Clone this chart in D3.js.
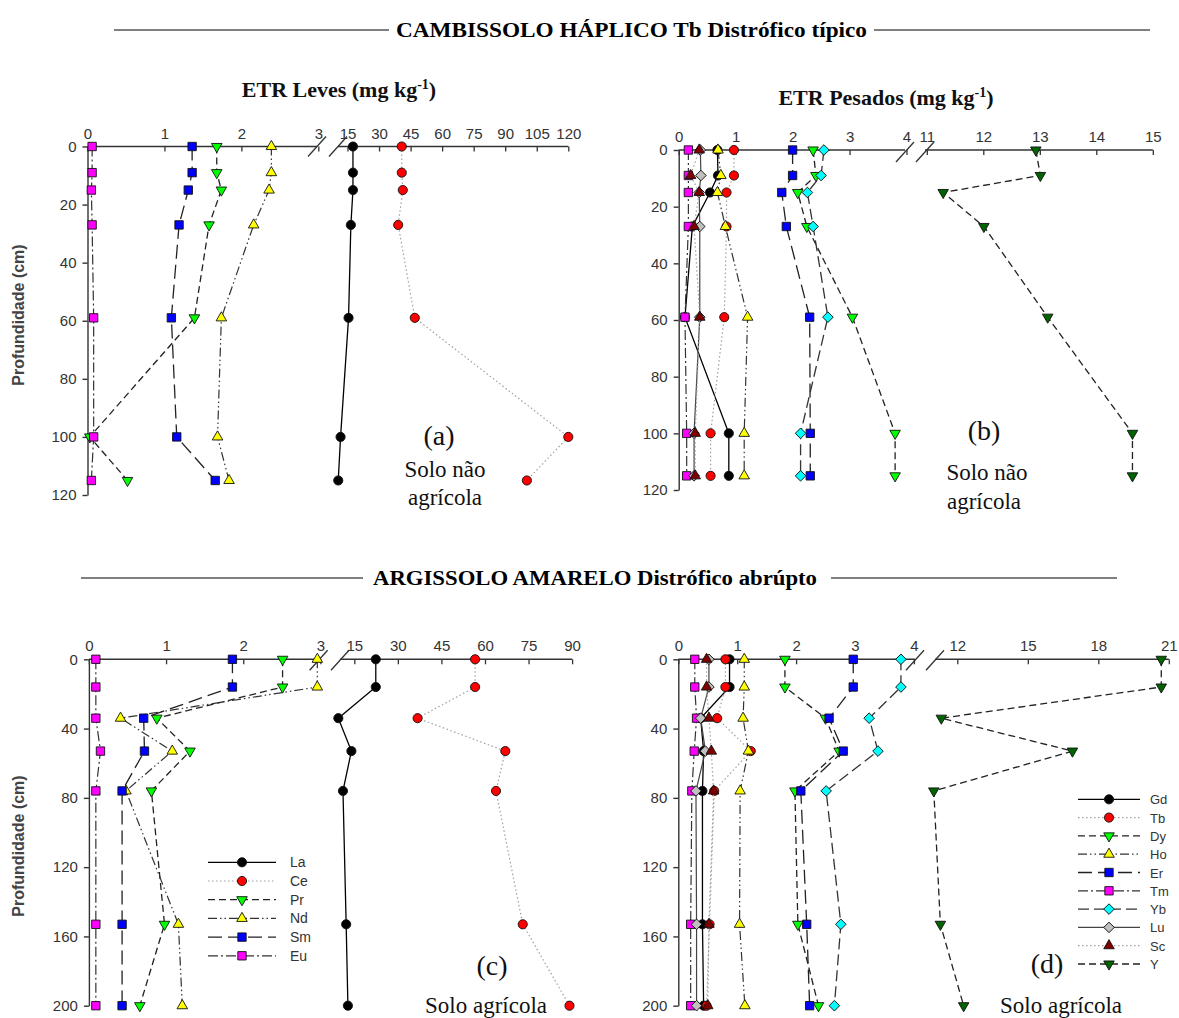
<!DOCTYPE html>
<html>
<head>
<meta charset="utf-8">
<script src="https://cdn.jsdelivr.net/npm/d3@7"></script>
<style>
  body { margin: 0; background: #fff; }
  svg text { font-family: "Liberation Sans", Arial, sans-serif; }
  svg text.serif { font-family: "Liberation Serif", "Times New Roman", serif; }
</style>
</head>
<body>
<svg id="chart" width="1179" height="1018"></svg>
<script>
// depths of the soil samples (cm)
var depthTop = [0, 9, 15, 27, 59, 100, 115];
var depthBottom = [0, 16, 34, 53, 76, 153, 200];

var lightNames = ["La", "Ce", "Pr", "Nd", "Sm", "Eu"];
var heavyNames = ["Gd", "Tb", "Dy", "Ho", "Er", "Tm", "Yb", "Lu", "Sc", "Y"];

// (a) ETR leves - solo nao agricola (mg kg-1)
var aLa = [17.6, 17.6, 17.6, 16.6, 15.5, 11.7, 10.6];
var aCe = [40.8, 40.8, 41.3, 39.1, 47.0, 120.0, 100.3];
var aPr = [1.68, 1.68, 1.74, 1.58, 1.39, 0.03, 0.52];
var aNd = [2.39, 2.39, 2.36, 2.16, 1.74, 1.69, 1.84];
var aSm = [1.36, 1.36, 1.31, 1.19, 1.09, 1.16, 1.66];
var aEu = [0.06, 0.06, 0.05, 0.06, 0.08, 0.08, 0.05];

// (b) ETR pesados - solo nao agricola
var bGd = [0.68, 0.69, 0.55, 0.24, 0.11, 0.88, 0.88];
var bTb = [0.97, 0.97, 0.84, 0.84, 0.80, 0.56, 0.56];
var bDy = [2.36, 2.41, 2.09, 2.25, 3.05, 3.80, 3.80];
var bHo = [0.69, 0.74, 0.68, 0.82, 1.21, 1.15, 1.15];
var bEr = [2.00, 2.00, 1.81, 1.89, 2.30, 2.31, 2.31];
var bTm = [0.17, 0.17, 0.17, 0.17, 0.11, 0.14, 0.14];
var bYb = [2.55, 2.50, 2.26, 2.36, 2.62, 2.14, 2.14];
var bLu = [0.38, 0.39, 0.36, 0.37, 0.37, 0.27, 0.27];
var bSc = [0.36, 0.21, 0.36, 0.27, 0.37, 0.29, 0.29];
var bY  = [12.93, 13.01, 11.29, 12.01, 13.14, 14.64, 14.64];

// (c) ETR leves - solo agricola
var cLa = [22.4, 22.4, 9.5, 14.0, 11.1, 12.2, 12.8];
var cCe = [56.6, 56.6, 36.8, 67.0, 63.8, 73.0, 89.1];
var cPr = [2.51, 2.51, 0.88, 1.31, 0.81, 0.98, 0.66];
var cNd = [2.96, 2.96, 0.41, 1.08, 0.48, 1.16, 1.21];
var cSm = [1.86, 1.86, 0.71, 0.72, 0.43, 0.43, 0.43];
var cEu = [0.09, 0.09, 0.09, 0.15, 0.09, 0.09, 0.09];

// (d) ETR pesados - solo agricola
var dGd = [0.87, 0.87, 0.38, 0.43, 0.41, 0.41, 0.43];
var dTb = [0.80, 0.80, 0.66, 1.23, 0.61, 0.53, 0.48];
var dDy = [1.81, 1.81, 2.50, 2.73, 1.98, 2.03, 2.38];
var dHo = [1.12, 1.12, 1.10, 1.19, 1.05, 1.04, 1.13];
var dEr = [2.97, 2.97, 2.56, 2.80, 2.08, 2.18, 2.23];
var dTm = [0.28, 0.28, 0.31, 0.27, 0.23, 0.21, 0.21];
var dYb = [3.78, 3.78, 3.24, 3.39, 2.51, 2.76, 2.65];
var dLu = [0.52, 0.52, 0.38, 0.46, 0.30, 0.31, 0.31];
var dSc = [0.48, 0.48, 0.52, 0.56, 0.60, 0.52, 0.50];
var dY  = [20.68, 20.68, 11.32, 16.90, 11.00, 11.28, 12.27];

// tick labels
var depthTicksTop = [0, 20, 40, 60, 80, 100, 120];
var depthTicksBottom = [0, 40, 80, 120, 160, 200];
var aLeftTicks = [0, 1, 2, 3], aRightTicks = [15, 30, 45, 60, 75, 90, 105, 120];
var bLeftTicks = [0, 1, 2, 3, 4], bRightTicks = [11, 12, 13, 14, 15];
var cLeftTicks = [0, 1, 2, 3], cRightTicks = [15, 30, 45, 60, 75, 90];
var dLeftTicks = [0, 1, 2, 3, 4], dRightTicks = [12, 15, 18, 21];

// marker + line look of each element
var look = {
  La: {shape: "circle", fill: "#000000", line: "solid"},
  Gd: {shape: "circle", fill: "#000000", line: "solid"},
  Ce: {shape: "circle", fill: "#ff0000", line: "dot"},
  Tb: {shape: "circle", fill: "#ff0000", line: "dot"},
  Pr: {shape: "down", fill: "#00ff00", line: "dash"},
  Dy: {shape: "down", fill: "#00ff00", line: "dash"},
  Nd: {shape: "up", fill: "#ffff00", line: "dashdotdot"},
  Ho: {shape: "up", fill: "#ffff00", line: "dashdotdot"},
  Sm: {shape: "square", fill: "#0000ff", line: "long"},
  Er: {shape: "square", fill: "#0000ff", line: "long"},
  Eu: {shape: "square", fill: "#ff00ff", line: "dashdot"},
  Tm: {shape: "square", fill: "#ff00ff", line: "dashdot"},
  Yb: {shape: "diamond", fill: "#00ffff", line: "long2"},
  Lu: {shape: "diamond", fill: "#c0c0c0", line: "solidgray"},
  Sc: {shape: "up", fill: "#800000", line: "dot"},
  Y:  {shape: "down", fill: "#006400", line: "dash"}
};
var lineStyles = {
  solid:      {stroke: "#000", dash: null, w: 1.3},
  solidgray:  {stroke: "#444", dash: null, w: 1.2},
  dot:        {stroke: "#a0a0a0", dash: "1.5,2.5", w: 1.2},
  dash:       {stroke: "#222", dash: "7,4", w: 1.3},
  dashdotdot: {stroke: "#333", dash: "9,3,1.5,3,1.5,3", w: 1.2},
  long:       {stroke: "#222", dash: "14,6", w: 1.3},
  long2:      {stroke: "#333", dash: "11,5", w: 1.3},
  dashdot:    {stroke: "#333", dash: "10,3,2,3", w: 1.2}
};

var svg = d3.select("#chart");

function markerPath(shape) {
  if (shape === "circle") return d3.symbol(d3.symbolCircle, 66)();
  if (shape === "square") return d3.symbol(d3.symbolSquare, 70)();
  if (shape === "diamond") return d3.symbol(d3.symbolSquare, 56)();
  return d3.symbol(d3.symbolTriangle, 48)();
}
function markerRot(shape) {
  if (shape === "down") return 180;
  if (shape === "diamond") return 45;
  return 0;
}
function drawMarker(g, name, x, y) {
  var lk = look[name];
  g.append("path")
    .attr("d", markerPath(lk.shape))
    .attr("transform", "translate(" + x + "," + y + ") rotate(" + markerRot(lk.shape) + ")")
    .attr("fill", lk.fill)
    .attr("stroke", "#111")
    .attr("stroke-width", 0.9);
}
function styleLine(sel, name) {
  var ls = lineStyles[look[name].line];
  sel.attr("fill", "none").attr("stroke", ls.stroke).attr("stroke-width", ls.w);
  if (ls.dash) sel.attr("stroke-dasharray", ls.dash);
  return sel;
}

function drawPanel(p) {
  var g = svg.append("g");
  var xl = d3.scaleLinear().domain([0, p.leftTicks[p.leftTicks.length - 1]]).range(p.leftRange);
  var xr = d3.scaleLinear().domain([p.rightTicks[0], p.rightTicks[p.rightTicks.length - 1]]).range(p.rightRange);
  var y = d3.scaleLinear().domain([0, p.depthTicks[p.depthTicks.length - 1]]).range(p.yRange);
  var y0 = y(0);

  // broken x axis
  g.append("line").attr("x1", p.leftRange[0]).attr("x2", p.breakL).attr("y1", y0).attr("y2", y0)
    .attr("stroke", "#333").attr("stroke-width", 1.4);
  g.append("line").attr("x1", p.breakR).attr("x2", p.rightRange[1]).attr("y1", y0).attr("y2", y0)
    .attr("stroke", "#333").attr("stroke-width", 1.4);
  [p.breakL, p.breakR].forEach(function(bx) {
    g.append("line").attr("x1", bx - 9).attr("y1", y0 + 10 + p.breakDy).attr("x2", bx + 9).attr("y2", y0 - 10 + p.breakDy)
      .attr("stroke", "#333").attr("stroke-width", 1.3);
  });

  [[xl, p.leftTicks], [xr, p.rightTicks]].forEach(function(s) {
    var ax = g.append("g").attr("transform", "translate(0," + y0 + ")")
      .call(d3.axisTop(s[0]).tickValues(s[1]).tickSize(-5).tickPadding(8).tickFormat(d3.format("d")));
    ax.select(".domain").remove();
    ax.attr("font-size", 15).attr("font-family", "Liberation Sans, Arial, sans-serif").attr("color", "#333");
    ax.selectAll("line").attr("stroke-width", 1.3);
  });

  var ay = g.append("g").attr("transform", "translate(" + p.leftRange[0] + ",0)")
    .call(d3.axisLeft(y).tickValues(p.depthTicks).tickSize(5).tickSizeOuter(0).tickPadding(6));
  ay.attr("font-size", 15).attr("font-family", "Liberation Sans, Arial, sans-serif").attr("color", "#333");
  ay.selectAll("line, path").attr("stroke-width", 1.4);

  // series: line then markers, in legend order
  p.names.forEach(function(name, i) {
    var sx = p.rightNames.indexOf(name) >= 0 ? xr : xl;
    var pts = p.values[i].map(function(v, j) { return [sx(v), y(p.depths[j])]; });
    styleLine(g.append("path").attr("d", d3.line()(pts)), name);
    pts.forEach(function(pt) { drawMarker(g, name, pt[0], pt[1]); });
  });

  // panel letter and soil note
  g.append("text").attr("class", "serif").attr("x", p.letterPos[0]).attr("y", p.letterPos[1])
    .attr("text-anchor", "middle").attr("font-size", 28).attr("fill", "#111").text(p.letter);
  p.note.forEach(function(t, k) {
    g.append("text").attr("class", "serif").attr("x", p.notePos[k][0]).attr("y", p.notePos[k][1])
      .attr("text-anchor", "middle").attr("font-size", 23).attr("fill", "#111").text(t);
  });

  if (p.legend) {
    var L = p.legend;
    p.names.forEach(function(name, i) {
      var ly = L.y + i * L.step;
      styleLine(g.append("line").attr("x1", L.x1).attr("x2", L.x2).attr("y1", ly).attr("y2", ly), name);
      drawMarker(g, name, (L.x1 + L.x2) / 2, ly);
      g.append("text").attr("x", L.tx).attr("y", ly + 5).attr("font-size", L.fs).attr("fill", "#333").text(name);
    });
  }
}

drawPanel({
  names: lightNames, values: [aLa, aCe, aPr, aNd, aSm, aEu], rightNames: ["La", "Ce"],
  depths: depthTop, depthTicks: depthTicksTop, leftTicks: aLeftTicks, rightTicks: aRightTicks,
  leftRange: [87.5, 318.3], rightRange: [347.5, 568.3], breakL: 317, breakR: 338, breakDy: 0,
  yRange: [146.5, 495],
  letter: "(a)", letterPos: [439, 445], note: ["Solo não", "agrícola"], notePos: [[445, 477], [445, 505]]
});
drawPanel({
  names: heavyNames, values: [bGd, bTb, bDy, bHo, bEr, bTm, bYb, bLu, bSc, bY], rightNames: ["Y"],
  depths: depthTop, depthTicks: depthTicksTop, leftTicks: bLeftTicks, rightTicks: bRightTicks,
  leftRange: [678.7, 906.5], rightRange: [926.8, 1152.8], breakL: 905, breakR: 925, breakDy: 2,
  yRange: [150, 490],
  letter: "(b)", letterPos: [984, 440], note: ["Solo não", "agrícola"], notePos: [[987, 480], [984, 509]]
});
drawPanel({
  names: lightNames, values: [cLa, cCe, cPr, cNd, cSm, cEu], rightNames: ["La", "Ce"],
  depths: depthBottom, depthTicks: depthTicksBottom, leftTicks: cLeftTicks, rightTicks: cRightTicks,
  leftRange: [88.9, 320.4], rightRange: [354.3, 572.1], breakL: 318.6, breakR: 340, breakDy: 1,
  yRange: [659.3, 1005.7],
  letter: "(c)", letterPos: [492, 975], note: ["Solo agrícola"], notePos: [[486, 1013]],
  legend: {x1: 208, x2: 276, tx: 290, y: 862.3, step: 18.7, fs: 14}
});
drawPanel({
  names: heavyNames, values: [dGd, dTb, dDy, dHo, dEr, dTm, dYb, dLu, dSc, dY], rightNames: ["Y"],
  depths: depthBottom, depthTicks: depthTicksBottom, leftTicks: dLeftTicks, rightTicks: dRightTicks,
  leftRange: [678.3, 913.9], rightRange: [957.3, 1168.8], breakL: 915, breakR: 935, breakDy: 1,
  yRange: [659.3, 1005.7],
  letter: "(d)", letterPos: [1047, 973], note: ["Solo agrícola"], notePos: [[1061, 1013]],
  legend: {x1: 1078, x2: 1140, tx: 1150, y: 799.3, step: 18.3, fs: 13}
});

// panel titles
function etrTitle(x, y, word) {
  var t = svg.append("text").attr("class", "serif").attr("x", x).attr("y", y)
    .attr("text-anchor", "middle").attr("font-size", 22).attr("font-weight", "bold").attr("fill", "#111");
  t.append("tspan").text("ETR " + word + " (mg kg");
  t.append("tspan").attr("font-size", 14).attr("dy", -8).text("-1");
  t.append("tspan").attr("dy", 8).text(")");
}
etrTitle(339, 97, "Leves");
etrTitle(886, 105, "Pesados");

// soil class headers with rules on both sides
function header(y, x1, x2, tx1, tx2, x3, x4, label) {
  svg.append("line").attr("x1", x1).attr("x2", x2).attr("y1", y).attr("y2", y).attr("stroke", "#000").attr("stroke-width", 1);
  svg.append("line").attr("x1", x3).attr("x2", x4).attr("y1", y).attr("y2", y).attr("stroke", "#000").attr("stroke-width", 1);
  svg.append("text").attr("class", "serif").attr("x", tx1).attr("y", y + 7)
    .attr("font-size", 20).attr("font-weight", "bold").attr("fill", "#000")
    .attr("textLength", tx2 - tx1).attr("lengthAdjust", "spacingAndGlyphs").text(label);
}
header(30, 114, 389, 396, 867, 874, 1150, "CAMBISSOLO  HÁPLICO Tb Distrófico típico");
header(578, 81, 363, 373, 817, 831, 1117, "ARGISSOLO  AMARELO  Distrófico abrúpto");

// depth axis titles
[[315, "a"], [846, "c"]].forEach(function(d) {
  svg.append("text").attr("transform", "translate(24," + d[0] + ") rotate(-90)")
    .attr("text-anchor", "middle").attr("font-size", 16).attr("font-weight", "bold").attr("fill", "#444")
    .text("Profundidade (cm)");
});
</script>
</body>
</html>
